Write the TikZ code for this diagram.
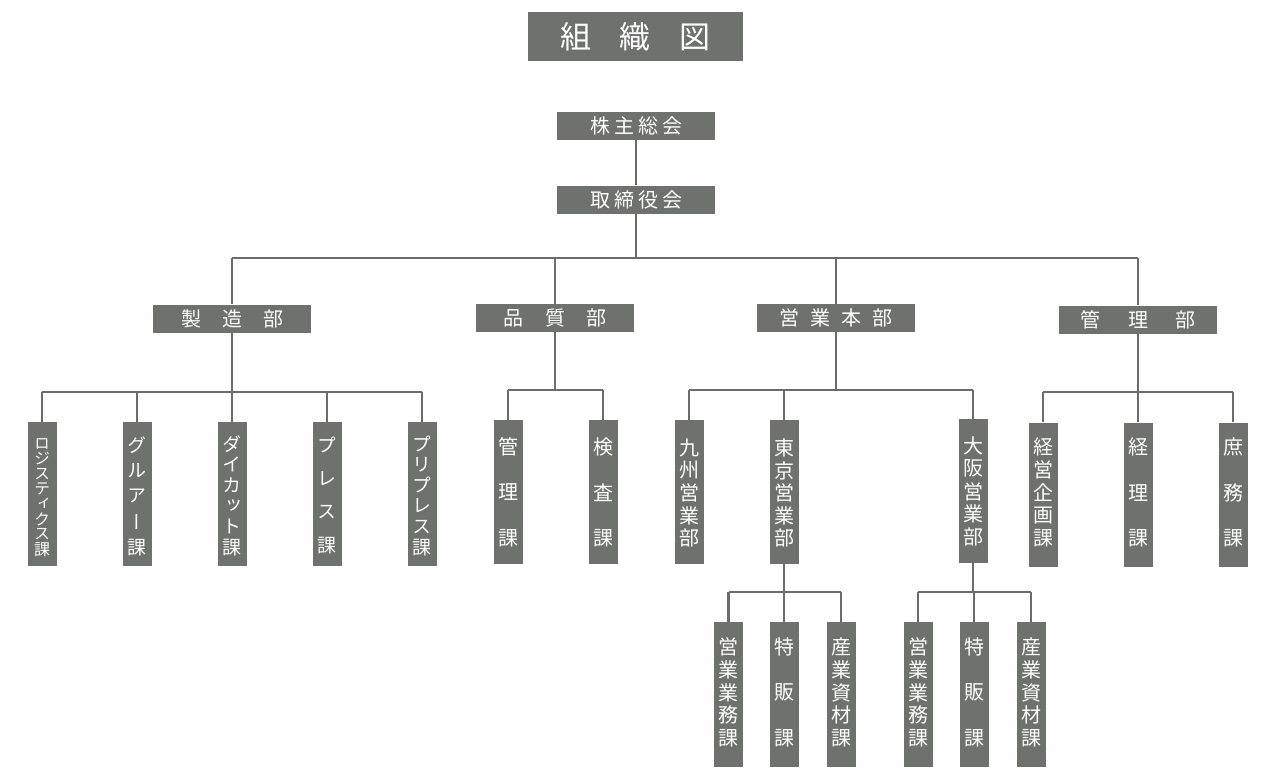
\documentclass[tikz,border=0pt]{standalone}
\usepackage{fontspec}
\usetikzlibrary{calc}
\newfontfamily\jp{Noto Sans CJK JP}
\newfontfamily\jpv[RawFeature=+vert]{Noto Sans CJK JP}
\definecolor{boxgray}{HTML}{6F716E}
\definecolor{linegray}{HTML}{6C6D6B}
\def\vsz{20pt}
\newcommand\vlab[5]{%
  \path ([yshift=-#3pt]#1.north) coordinate (vlt) ([yshift=#4pt]#1.south) coordinate (vlb);
  \foreach \ch [count=\ii from 0] in {#5}{
    \node[vchar] at ($(vlt)!{\ii/(#2-1)}!(vlb)$) {\ch};
  }}
\tikzset{
  base/.style={fill=boxgray, text=white, inner sep=0pt},
  titlebox/.style={base, minimum width=215pt, minimum height=49pt, font=\jp\fontsize{31pt}{31pt}\selectfont},
  hbox/.style={base, minimum width=158pt, minimum height=28pt, font=\jp\fontsize{20pt}{20pt}\selectfont},
  vbox/.style={base, minimum width=29pt, minimum height=144pt},
  vchar/.style={text=white, inner sep=0pt, font=\jpv\fontsize{\vsz}{\vsz}\selectfont},
  conn/.style={draw=linegray, line width=2.4pt}
}
\begin{document}
\begin{tikzpicture}[x=1pt,y=-1pt]
\useasboundingbox (0,0) rectangle (1276,781);
% top
\node[titlebox] (title) at (635.5,36.5) {組\hspace{29pt}織\hspace{29pt}図};
\node[hbox] (kabu) at (636,126) {株\hspace{4pt}主\hspace{4pt}総\hspace{4pt}会};
\node[hbox] (tori) at (636,199.5) {取\hspace{4pt}締\hspace{4pt}役\hspace{4pt}会};
% departments
\node[hbox] (dA) at (232,318.5) {製\hspace{21pt}造\hspace{21pt}部};
\node[hbox] (dB) at (555,318) {品\hspace{21.5pt}質\hspace{21.5pt}部};
\node[hbox] (dC) at (836,318) {営\hspace{11pt}業\hspace{11pt}本\hspace{11pt}部};
\node[hbox] (dD) at (1138,319.5) {管\hspace{27.5pt}理\hspace{27.5pt}部};
% sections
\node[vbox] (s1) at (42,494) {};
\node[vbox] (s2) at (137,494) {};
\node[vbox] (s3) at (232,494) {};
\node[vbox] (s4) at (327,494) {};
\node[vbox] (s5) at (422,494) {};
\node[vbox] (q1) at (508,492) {};
\node[vbox] (q2) at (603,492) {};
\node[vbox] (e1) at (689,492) {};
\node[vbox] (e2) at (784,492) {};
\node[vbox] (e3) at (973,491) {};
\node[vbox] (k1) at (1043,494.5) {};
\node[vbox] (k2) at (1138,494.5) {};
\node[vbox] (k3) at (1233,494.5) {};
% bottom
\node[vbox,minimum height=145pt] (t1) at (728.5,694.5) {};
\node[vbox,minimum height=145pt] (t2) at (784,694.5) {};
\node[vbox,minimum height=145pt] (t3) at (841,694.5) {};
\node[vbox,minimum height=145pt] (o1) at (918,694.5) {};
\node[vbox,minimum height=145pt] (o2) at (974,694.5) {};
\node[vbox,minimum height=145pt] (o3) at (1031,694.5) {};
% vertical labels
\def\vsz{16pt}
\vlab{s1}{8}{22}{17}{ロ,ジ,ス,テ,ィ,ク,ス,課}
\def\vsz{19pt}
\vlab{s2}{5}{23}{19}{グ,ル,ア,ー,課}
\vlab{s3}{6}{22}{19}{ダ,イ,カ,ッ,ト,課}
\vlab{s4}{4}{23}{21}{プ,レ,ス,課}
\vlab{s5}{6}{22}{19}{プ,リ,プ,レ,ス,課}
\def\vsz{20pt}
\vlab{q1}{3}{27}{26}{管,理,課}
\vlab{q2}{3}{27}{26}{検,査,課}
\vlab{e1}{5}{28}{26}{九,州,営,業,部}
\vlab{e2}{5}{28}{26}{東,京,営,業,部}
\vlab{e3}{5}{27}{26}{大,阪,営,業,部}
\vlab{k1}{5}{25}{28}{経,営,企,画,課}
\vlab{k2}{3}{25}{28}{経,理,課}
\vlab{k3}{3}{25}{28}{庶,務,課}
\vlab{t1}{5}{25}{29}{営,業,業,務,課}
\vlab{t2}{3}{25}{29}{特,販,課}
\vlab{t3}{5}{25}{29}{産,業,資,材,課}
\vlab{o1}{5}{25}{29}{営,業,業,務,課}
\vlab{o2}{3}{25}{29}{特,販,課}
\vlab{o3}{5}{25}{29}{産,業,資,材,課}
% connectors
\coordinate (bus0) at (0,258);
\coordinate (busA) at (0,392);
\coordinate (busB) at (0,390);
\coordinate (busC) at (0,390);
\coordinate (busD) at (0,392);
\coordinate (busT) at (0,592);
\coordinate (busO) at (0,592);
\draw[conn] (kabu.south) -- (tori.north);
\draw[conn] (tori.south) -- (tori.south |- bus0);
\draw[conn] (dA.north |- bus0) -- (dD.north |- bus0);
\foreach \d in {dA,dB,dC,dD} \draw[conn] (\d.north |- bus0) -- (\d.north);
% groups
\draw[conn] (dA.south) -- (dA.south |- busA);
\draw[conn] (s1.north |- busA) -- (s5.north |- busA);
\foreach \c in {s1,s2,s3,s4,s5} \draw[conn] (\c.north |- busA) -- (\c.north);
\draw[conn] (dB.south) -- (dB.south |- busB);
\draw[conn] (q1.north |- busB) -- (q2.north |- busB);
\foreach \c in {q1,q2} \draw[conn] (\c.north |- busB) -- (\c.north);
\draw[conn] (dC.south) -- (dC.south |- busC);
\draw[conn] (e1.north |- busC) -- (e3.north |- busC);
\foreach \c in {e1,e2,e3} \draw[conn] (\c.north |- busC) -- (\c.north);
\draw[conn] (dD.south) -- (dD.south |- busD);
\draw[conn] (k1.north |- busD) -- (k3.north |- busD);
\foreach \c in {k1,k2,k3} \draw[conn] (\c.north |- busD) -- (\c.north);
\draw[conn] (e2.south) -- (e2.south |- busT);
\draw[conn] (t1.north |- busT) -- (t3.north |- busT);
\foreach \c in {t1,t2,t3} \draw[conn] (\c.north |- busT) -- (\c.north);
\draw[conn] (e3.south) -- (e3.south |- busO);
\draw[conn] (o1.north |- busO) -- (o3.north |- busO);
\foreach \c in {o1,o2,o3} \draw[conn] (\c.north |- busO) -- (\c.north);
\end{tikzpicture}
\end{document}
